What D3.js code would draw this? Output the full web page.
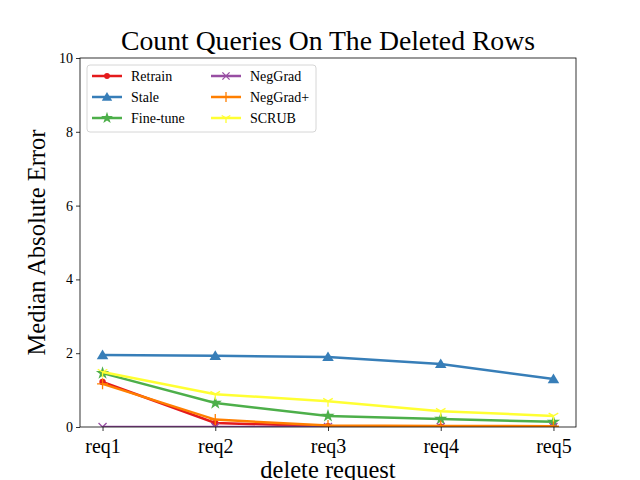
<!DOCTYPE html>
<html>
<head>
<meta charset="utf-8">
<script src="https://cdn.jsdelivr.net/npm/d3@7"></script>
<style>
  body { margin: 0; background: #fff; }
  text { font-family: "Liberation Serif", "DejaVu Serif", serif; }
</style>
</head>
<body>
<script>
// chart data
var requests = ["req1", "req2", "req3", "req4", "req5"];
var retrain = [1.22, 0.11, 0.02, 0.01, 0.01];
var stale = [1.95, 1.93, 1.90, 1.71, 1.30];
var fineTune = [1.46, 0.65, 0.30, 0.22, 0.14];
var negGrad = [0, 0, 0, 0, 0];
var negGradPlus = [1.17, 0.20, 0.04, 0.03, 0.02];
var scrub = [1.49, 0.89, 0.70, 0.43, 0.30];
var yTicks = [0, 2, 4, 6, 8, 10];

var series = [
  { name: "Retrain", values: retrain, color: "#e41a1c", marker: "dot" },
  { name: "Stale", values: stale, color: "#377eb8", marker: "tri" },
  { name: "Fine-tune", values: fineTune, color: "#4daf4a", marker: "star" },
  { name: "NegGrad", values: negGrad, color: "#984ea3", marker: "x" },
  { name: "NegGrad+", values: negGradPlus, color: "#ff7f00", marker: "plus" },
  { name: "SCRUB", values: scrub, color: "#ffff33", marker: "tri1" }
];

var W = 640, H = 480;
var pLeft = 80, pRight = 576, pTop = 58, pBottom = 427;

var svg = d3.select("body").append("svg")
  .attr("width", W).attr("height", H);

svg.append("defs").append("clipPath").attr("id", "plotclip")
  .append("rect")
  .attr("x", pLeft).attr("y", pTop)
  .attr("width", pRight - pLeft).attr("height", pBottom - pTop);

// matplotlib-style margins: 5% on each side of 4 steps
var x = d3.scaleLinear().domain([-0.2, requests.length - 1 + 0.2]).range([pLeft, pRight]);
var y = d3.scaleLinear().domain([0, 10]).range([pBottom, pTop]);

// axes
var xAxis = svg.append("g")
  .attr("transform", "translate(0," + pBottom + ")")
  .call(d3.axisBottom(x).tickValues(d3.range(requests.length))
    .tickFormat(function (i) { return requests[i]; })
    .tickSize(4).tickSizeOuter(0));
xAxis.selectAll("text").style("font-size", "20px").attr("dy", "0.95em").attr("fill", "#000");

var yAxis = svg.append("g")
  .attr("transform", "translate(" + pLeft + ",0)")
  .call(d3.axisLeft(y).tickValues(yTicks).tickSize(4).tickSizeOuter(0));
yAxis.selectAll("text").style("font-size", "14px").attr("fill", "#000");
svg.selectAll(".domain").remove();
svg.selectAll(".tick line").attr("stroke", "#000").attr("stroke-width", 0.8);

// markers
function drawMarker(g, type, color, s) {
  if (type === "dot") {
    g.append("circle").attr("r", s * 0.32).attr("fill", color);
  } else if (type === "tri") {
    var h = s * 0.55;
    g.append("path")
      .attr("d", "M0," + (-h) + "L" + (h * 1.05) + "," + (h * 0.75) + "L" + (-h * 1.05) + "," + (h * 0.75) + "Z")
      .attr("fill", color);
  } else if (type === "star") {
    g.append("path").attr("d", d3.symbol(d3.symbolStar, s * s * 0.55)())
      .attr("fill", color);
  } else if (type === "x") {
    var r = s * 0.4;
    g.append("path").attr("d", "M" + -r + "," + -r + "L" + r + "," + r + "M" + -r + "," + r + "L" + r + "," + -r)
      .attr("stroke", color).attr("stroke-width", 1.3);
  } else if (type === "plus") {
    var p = s * 0.55;
    g.append("path").attr("d", "M" + -p + ",0L" + p + ",0M0," + -p + "L0," + p)
      .attr("stroke", color).attr("stroke-width", 1.3);
  } else if (type === "tri1") {
    var t = s * 0.55;
    g.append("path").attr("d", "M0,0L0," + t + "M0,0L" + (-t * 0.87) + "," + (-t * 0.5) + "M0,0L" + (t * 0.87) + "," + (-t * 0.5))
      .attr("stroke", color).attr("stroke-width", 1.3);
  }
}

var line = d3.line()
  .x(function (d, i) { return x(i); })
  .y(function (d) { return y(d); });

var plot = svg.append("g").attr("clip-path", "url(#plotclip)");
series.forEach(function (s) {
  plot.append("path")
    .datum(s.values)
    .attr("d", line)
    .attr("fill", "none")
    .attr("stroke", s.color)
    .attr("stroke-width", 2.5);
  s.values.forEach(function (v, i) {
    var g = plot.append("g").attr("transform", "translate(" + x(i) + "," + y(v) + ")");
    drawMarker(g, s.marker, s.color, 10);
  });
});

svg.append("rect")
  .attr("x", pLeft).attr("y", pTop)
  .attr("width", pRight - pLeft).attr("height", pBottom - pTop)
  .attr("fill", "none").attr("stroke", "#000").attr("stroke-width", 0.8);

// legend
var lg = svg.append("g").attr("transform", "translate(87,65)");
lg.append("rect").attr("width", 229).attr("height", 67).attr("rx", 3)
  .attr("fill", "#fff").attr("fill-opacity", 0.8)
  .attr("stroke", "#ccc").attr("stroke-width", 0.8);
series.forEach(function (s, i) {
  var col = Math.floor(i / 3), row = i % 3;
  var gx = 5 + col * 119, gy = 11 + row * 21;
  var g = lg.append("g").attr("transform", "translate(" + gx + "," + gy + ")");
  g.append("line").attr("x1", 0).attr("x2", 30).attr("stroke", s.color).attr("stroke-width", 2.5);
  var m = g.append("g").attr("transform", "translate(15,0)");
  drawMarker(m, s.marker, s.color, 9);
  g.append("text").attr("x", 39).attr("dy", "0.35em").style("font-size", "14px").text(s.name);
});

// title and labels
svg.append("text").attr("x", (pLeft + pRight) / 2).attr("y", 50)
  .attr("text-anchor", "middle").style("font-size", "27.7px")
  .text("Count Queries On The Deleted Rows");
svg.append("text").attr("x", (pLeft + pRight) / 2).attr("y", 478)
  .attr("text-anchor", "middle").style("font-size", "24.5px")
  .text("delete request");
svg.append("text")
  .attr("transform", "translate(45," + (pTop + pBottom) / 2 + ") rotate(-90)")
  .attr("text-anchor", "middle").style("font-size", "24.5px")
  .text("Median Absolute Error");
</script>
</body>
</html>
